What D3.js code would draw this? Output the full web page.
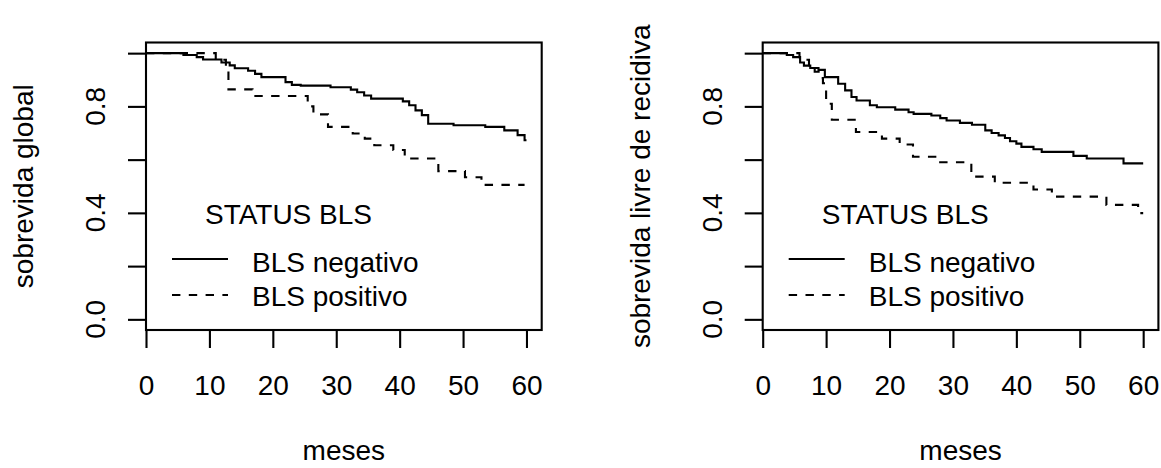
<!DOCTYPE html>
<html>
<head>
<meta charset="utf-8">
<script src="https://cdn.jsdelivr.net/npm/d3@7"></script>
<style>
  html, body { margin: 0; padding: 0; background: #fff; }
  svg { display: block; }
  text { font-family: "Liberation Sans", Arial, Helvetica, sans-serif; fill: #000; }
</style>
</head>
<body>
<svg id="chart" width="1161" height="468"></svg>
<script>
// ---- axis ticks and labels ----
const monthTicks = [0, 10, 20, 30, 40, 50, 60];
const survTicks = [0, 0.2, 0.4, 0.6, 0.8, 1.0];
const survTickLabels = ["0.0", "", "0.4", "", "0.8", ""];
const xTitle = "meses";
const panelTitles = ["sobrevida global", "sobrevida livre de recidiva"];
const legendTitle = "STATUS BLS";
const groupLabels = ["BLS negativo", "BLS positivo"];

// ---- overall survival (Kaplan-Meier steps: time in months, survival after step) ----
const osNegTime = [0, 5.9, 8.0, 9.0, 11.9, 13.2, 14.0, 16.1, 17.2, 18.2, 22.0, 23.0, 24.4, 29.1, 32.3, 33.3, 34.4, 35.5, 40.5, 41.5, 42.5, 43.5, 44.5, 48.5, 53.5, 56.5, 58.6, 59.7, 60.0];
const osNegSurv = [1.000, 0.993, 0.985, 0.976, 0.965, 0.954, 0.943, 0.934, 0.922, 0.910, 0.891, 0.881, 0.878, 0.872, 0.863, 0.853, 0.841, 0.829, 0.819, 0.804, 0.785, 0.767, 0.735, 0.729, 0.723, 0.710, 0.692, 0.673, 0.673];
const osPosTime = [0, 11.0, 12.6, 13.0, 16.8, 25.5, 26.4, 28.7, 32.6, 34.5, 36.0, 39.0, 40.8, 46.1, 50.3, 52.9, 59.7];
const osPosSurv = [1.000, 0.975, 0.950, 0.864, 0.839, 0.800, 0.770, 0.723, 0.698, 0.679, 0.654, 0.636, 0.604, 0.557, 0.534, 0.505, 0.505];

// ---- recurrence-free survival ----
const rfsNegTime = [0, 3.8, 4.8, 5.9, 6.5, 7.5, 8.8, 9.8, 11.9, 13.0, 14.0, 14.8, 16.9, 18.0, 20.9, 23.0, 23.8, 26.6, 28.0, 29.0, 31.1, 33.0, 35.1, 36.1, 37.2, 38.2, 39.0, 40.0, 40.8, 42.7, 44.0, 49.0, 51.1, 56.9, 60.0];
const rfsNegSurv = [1.000, 0.993, 0.985, 0.965, 0.953, 0.944, 0.937, 0.910, 0.885, 0.860, 0.835, 0.822, 0.804, 0.797, 0.788, 0.778, 0.772, 0.766, 0.756, 0.747, 0.738, 0.731, 0.710, 0.700, 0.691, 0.681, 0.669, 0.660, 0.648, 0.639, 0.629, 0.614, 0.604, 0.586, 0.586];
const rfsPosTime = [0, 5.8, 7.3, 8.2, 9.0, 9.5, 10.0, 10.9, 14.7, 18.8, 21.6, 23.7, 27.7, 32.9, 36.6, 42.7, 45.6, 54.2, 59.2, 60.0];
const rfsPosSurv = [1.000, 0.975, 0.955, 0.930, 0.906, 0.887, 0.810, 0.750, 0.704, 0.679, 0.657, 0.611, 0.590, 0.536, 0.513, 0.488, 0.461, 0.430, 0.399, 0.399];

const panels = [
  { dx: 0,     title: panelTitles[0], series: [[osNegTime, osNegSurv], [osPosTime, osPosSurv]] },
  { dx: 616.7, title: panelTitles[1], series: [[rfsNegTime, rfsNegSurv], [rfsPosTime, rfsPosSurv]] }
];

const svg = d3.select("#chart");
svg.append("rect").attr("width", 1161).attr("height", 468).attr("fill", "#fff");

const FS = 28;          // font size
const LW = 2.1;         // line width
const TICK = 18;        // tick length
const box = { left: 146, right: 541.7, top: 42.5, bottom: 330 };
const dashes = ["none", "8.4 8.4"];

const x = d3.scaleLinear().domain([0, 62.4]).range([box.left, box.right]);
const y = d3.scaleLinear().domain([-0.04, 1.04]).range([box.bottom, box.top]);

const line = d3.line()
  .x(d => x(d[0]))
  .y(d => y(d[1]))
  .curve(d3.curveStepAfter);

panels.forEach(p => {
  const g = svg.append("g").attr("transform", `translate(${p.dx},0)`);

  // curves
  p.series.forEach(([t, s], i) => {
    g.append("path")
      .datum(d3.zip(t, s))
      .attr("d", line)
      .attr("fill", "none")
      .attr("stroke", "#000")
      .attr("stroke-width", LW)
      .attr("stroke-dasharray", dashes[i])
      .attr("stroke-linecap", "butt");
  });

  // plot box
  g.append("rect")
    .attr("x", box.left).attr("y", box.top)
    .attr("width", box.right - box.left).attr("height", box.bottom - box.top)
    .attr("fill", "none").attr("stroke", "#000").attr("stroke-width", LW);

  // x axis
  const gx = g.append("g")
    .attr("transform", `translate(0,${box.bottom})`)
    .call(d3.axisBottom(x).tickValues(monthTicks).tickSize(TICK).tickSizeOuter(0));
  gx.select(".domain").remove();
  gx.selectAll(".tick line").attr("stroke", "#000").attr("stroke-width", LW);
  gx.selectAll(".tick text")
    .attr("y", 65).attr("dy", null)
    .attr("font-size", FS).attr("fill", "#000")
    .style("font-family", "'Liberation Sans', Arial, sans-serif");

  // y axis (ticks from the axis, labels rotated as in base graphics)
  const gy = g.append("g")
    .attr("transform", `translate(${box.left},0)`)
    .call(d3.axisLeft(y).tickValues(survTicks).tickSize(TICK).tickSizeOuter(0).tickFormat(""));
  gy.select(".domain").remove();
  gy.selectAll(".tick line").attr("stroke", "#000").attr("stroke-width", LW);

  g.selectAll(".ylabel")
    .data(survTicks.map((v, i) => [v, survTickLabels[i]]).filter(d => d[1] !== ""))
    .join("text")
    .attr("class", "ylabel")
    .attr("transform", d => `translate(105,${y(d[0])}) rotate(-90)`)
    .attr("text-anchor", "middle")
    .attr("font-size", FS)
    .text(d => d[1]);

  // axis titles
  g.append("text")
    .attr("x", (box.left + box.right) / 2).attr("y", 460)
    .attr("text-anchor", "middle").attr("font-size", FS)
    .text(xTitle);
  g.append("text")
    .attr("transform", `translate(33,${(box.top + box.bottom) / 2}) rotate(-90)`)
    .attr("text-anchor", "middle").attr("font-size", FS)
    .text(p.title);

  // legend
  const lg = g.append("g");
  lg.append("text").attr("x", 205).attr("y", 224).attr("font-size", FS).text(legendTitle);
  const rowY = [259, 295];
  const rowBase = [272, 306];
  groupLabels.forEach((lab, i) => {
    lg.append("line")
      .attr("x1", 172).attr("x2", 228).attr("y1", rowY[i]).attr("y2", rowY[i])
      .attr("stroke", "#000").attr("stroke-width", LW)
      .attr("stroke-dasharray", dashes[i]);
    lg.append("text").attr("x", 252).attr("y", rowBase[i]).attr("font-size", FS).text(lab);
  });
});
</script>
</body>
</html>
